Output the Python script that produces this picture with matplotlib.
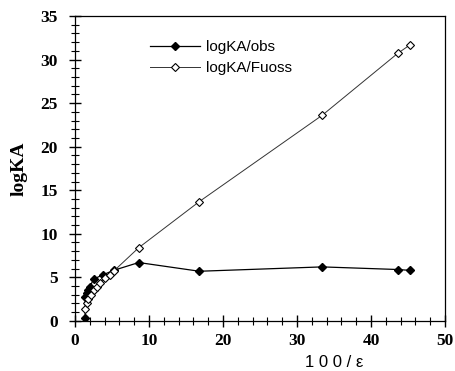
import matplotlib.pyplot as plt
from matplotlib.ticker import MultipleLocator

# logKA/obs (filled diamonds)
x_obs = [1.35, 1.4, 1.6, 1.8, 2.0, 2.5, 3.8, 5.2, 8.6, 16.8, 33.4, 43.6, 45.3]
y_obs = [0.3, 2.8, 3.2, 3.6, 3.9, 4.8, 5.3, 5.8, 6.7, 5.7, 6.2, 5.9, 5.8]

# logKA/Fuoss (open diamonds)
x_fuoss = [1.4, 1.6, 1.8, 2.1, 2.5, 2.9, 3.4, 4.0, 4.7, 5.2, 8.6, 16.8, 33.4, 43.6, 45.3]
y_fuoss = [1.4, 2.0, 2.5, 3.0, 3.5, 3.9, 4.4, 4.9, 5.3, 5.7, 8.4, 13.7, 23.6, 30.7, 31.7]

fig = plt.figure(figsize=(4.55, 3.71), dpi=100)
ax = fig.add_axes([0.165, 0.135, 0.813, 0.822])

ax.plot(x_obs, y_obs, color='black', lw=0.9, marker='D', ms=4,
        mfc='black', mec='black', label='logKA/obs')
ax.plot(x_fuoss, y_fuoss, color='#333333', lw=0.7, marker='D', ms=4,
        mfc='white', mec='black', mew=0.8, label='logKA/Fuoss')

ax.set_xlim(0, 50)
ax.set_ylim(0, 35)
ax.xaxis.set_major_locator(MultipleLocator(10))
ax.xaxis.set_minor_locator(MultipleLocator(2))
ax.yaxis.set_major_locator(MultipleLocator(5))
ax.yaxis.set_minor_locator(MultipleLocator(1))
ax.tick_params(which='major', direction='inout', length=9, width=1)
ax.tick_params(axis='y', which='major', pad=8)
ax.tick_params(axis='x', which='major', pad=4)
ax.tick_params(which='minor', direction='inout', length=6, width=0.8)
for sp in ax.spines.values():
    sp.set_linewidth(0.9)

for lab in ax.get_xticklabels() + ax.get_yticklabels():
    lab.set_fontfamily('Liberation Serif')
    lab.set_fontweight('bold')
    lab.set_fontsize(12.5)

ax.set_ylabel('logKA', fontfamily='Liberation Serif', fontweight='bold', fontsize=14)
ax.yaxis.set_label_coords(-0.128, 0.5)
ax.set_xlabel('1 0 0 / ε', fontfamily='Liberation Sans', fontsize=12)
ax.xaxis.set_label_coords(0.70, -0.138)
ax.xaxis.label.set_va('center')

ax.legend(loc='upper left', bbox_to_anchor=(0.165, 0.965), frameon=False,
          prop={'family': 'Liberation Sans', 'size': 11}, handlelength=3.3,
          handletextpad=0.4, labelspacing=0.45)

plt.savefig('out.png')
plt.close()
